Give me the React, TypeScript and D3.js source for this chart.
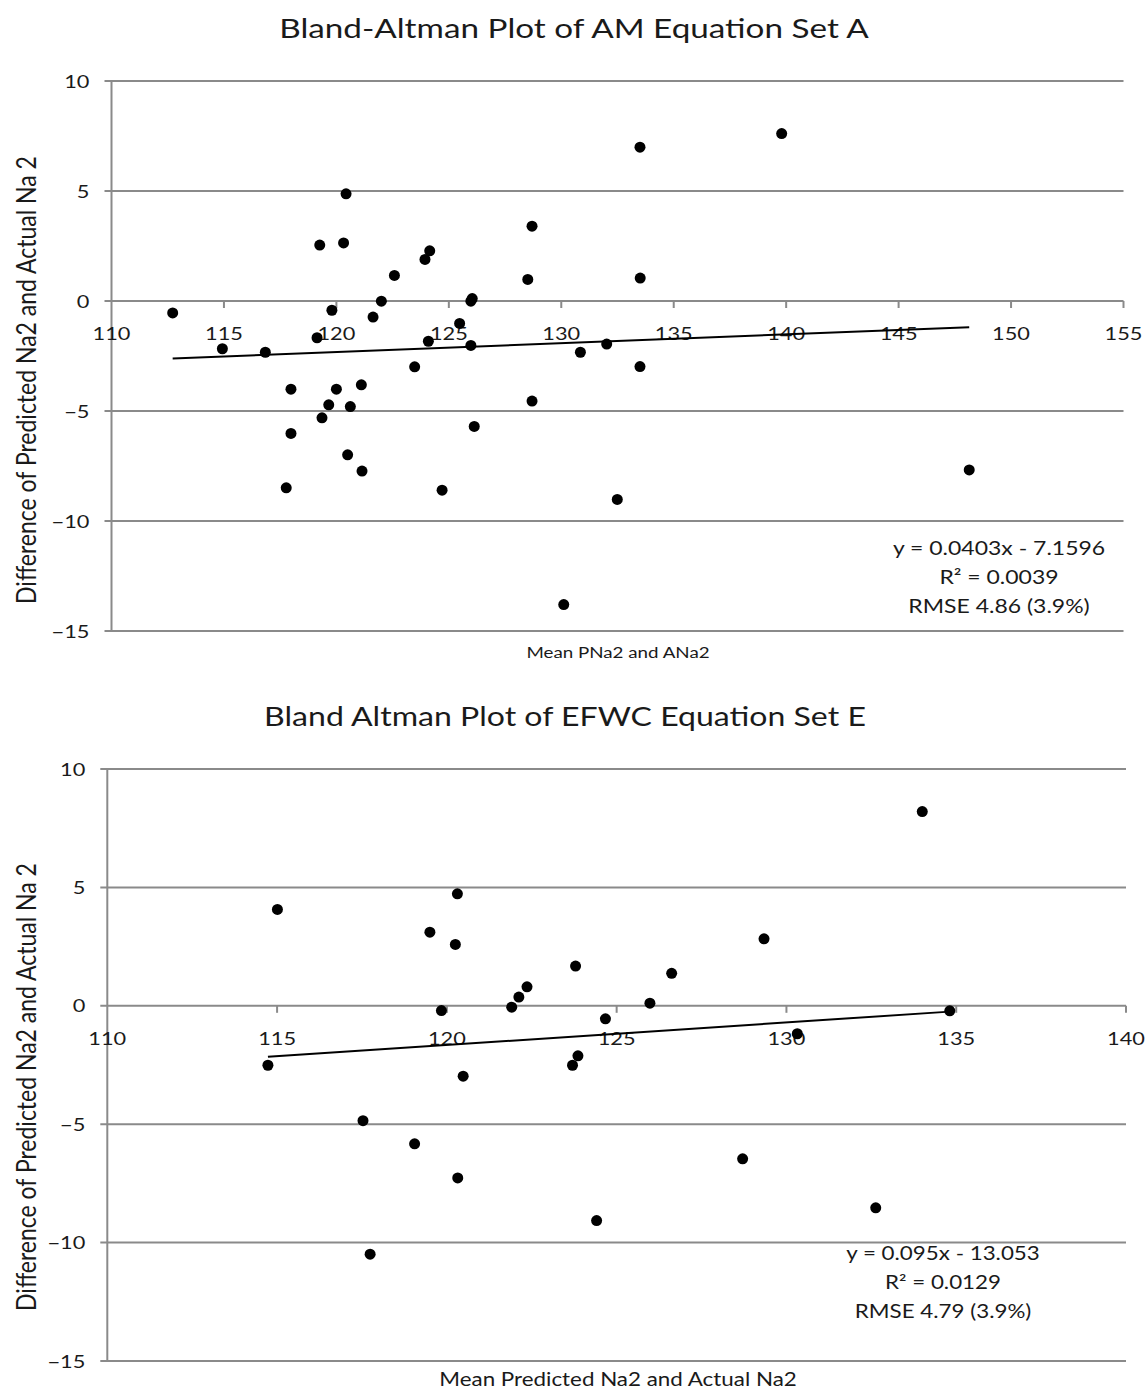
import React, { useEffect, useRef } from 'react';
import * as d3 from 'd3';

// Panel A: mean of PNa2 and ANa2 vs difference
const meanA = [
  112.72, 120.43, 119.26, 120.32, 124.15, 123.94, 122.58, 122.0, 126.04, 125.98,
  119.8, 121.63, 125.48, 119.14, 124.09, 125.98, 114.93, 116.84, 123.48, 117.98,
  120.0, 121.11, 119.66, 120.62, 119.36, 117.98, 126.13, 120.5, 121.14, 117.77,
  124.7, 133.5, 139.8, 128.7, 128.51, 133.51, 130.85, 132.02, 133.5, 128.7,
  132.49, 130.11, 148.14
];
const diffA = [
  -0.54, 4.87, 2.54, 2.64, 2.28, 1.89, 1.16, -0.01, 0.11, -0.01,
  -0.42, -0.73, -1.02, -1.67, -1.83, -2.02, -2.17, -2.33, -2.99, -4.01,
  -4.01, -3.81, -4.72, -4.8, -5.31, -6.02, -5.7, -6.99, -7.73, -8.49,
  -8.6, 6.99, 7.61, 3.4, 0.98, 1.04, -2.33, -1.96, -2.98, -4.55,
  -9.02, -13.8, -7.68
];

// Panel E: mean predicted and actual Na2 vs difference
const meanE = [
  115.01, 120.31, 119.5, 120.25, 119.84, 114.73, 120.48, 117.53, 119.05, 120.32,
  117.74, 129.34, 123.79, 126.62, 122.36, 122.12, 121.91, 125.98, 124.67, 130.32,
  123.86, 123.7, 128.71, 124.41, 132.63, 134.0, 134.81
];
const diffE = [
  4.07, 4.73, 3.11, 2.59, -0.2, -2.51, -2.97, -4.85, -5.83, -7.27,
  -10.49, 2.83, 1.68, 1.37, 0.8, 0.37, -0.06, 0.11, -0.55, -1.18,
  -2.11, -2.51, -6.46, -9.07, -8.53, 8.2, -0.21
];

const xTicksA = [110, 115, 120, 125, 130, 135, 140, 145, 150, 155];
const xTicksE = [110, 115, 120, 125, 130, 135, 140];
const yTicks = [10, 5, 0, -5, -10, -15];

const fitA = { slope: 0.0403, intercept: -7.1596 };
const fitE = { slope: 0.095, intercept: -13.053 };

const notesA = ['y = 0.0403x - 7.1596', 'R² = 0.0039', 'RMSE 4.86 (3.9%)'];
const notesE = ['y = 0.095x - 13.053', 'R² = 0.0129', 'RMSE 4.79 (3.9%)'];

const Y_TITLE = 'Difference of Predicted Na2 and Actual Na 2';

const FONT = 'Lato, "Open Sans", sans-serif';
const GRID = '#8a8a8a';
const INK = '#1a1a1a';
// the source picture is stretched horizontally, so are its letters
const STRETCH = 1.21;

type G = d3.Selection<SVGGElement, unknown, null, undefined>;

type Panel = {
  title: string;
  titleX: number;
  titleY: number;
  titleSize: number;
  xTitle: string;
  xTitleY: number;
  xTitleSize: number;
  means: number[];
  diffs: number[];
  xTicks: number[];
  xRange: [number, number];
  yRange: [number, number];
  fit: { slope: number; intercept: number };
  notes: string[];
  noteX: number;
  noteY: number;
  noteSize: number;
  yTitleY: number;
};

const panels: Panel[] = [
  {
    title: 'Bland-Altman Plot of AM Equation Set A',
    titleX: 574,
    titleY: 28,
    titleSize: 27.5,
    xTitle: 'Mean PNa2 and ANa2',
    xTitleY: 652,
    xTitleSize: 15.5,
    means: meanA,
    diffs: diffA,
    xTicks: xTicksA,
    xRange: [111.5, 1123.5],
    yRange: [631, 81],
    fit: fitA,
    notes: notesA,
    noteX: 999,
    noteY: 548,
    noteSize: 19,
    yTitleY: 380
  },
  {
    title: 'Bland Altman Plot of EFWC Equation Set E',
    titleX: 565,
    titleY: 716,
    titleSize: 26.5,
    xTitle: 'Mean Predicted Na2 and Actual Na2',
    xTitleY: 1380,
    xTitleSize: 18.5,
    means: meanE,
    diffs: diffE,
    xTicks: xTicksE,
    xRange: [107.3, 1126],
    yRange: [1361, 769],
    fit: fitE,
    notes: notesE,
    noteX: 943,
    noteY: 1253,
    noteSize: 18.5,
    yTitleY: 1087
  }
];

function label(g: G, x: number, y: number, txt: string, size: number, anchor = 'middle') {
  g.append('text')
    .attr('transform', `translate(${x}, ${y}) scale(${STRETCH}, 1)`)
    .attr('text-anchor', anchor)
    .style('font-family', FONT)
    .style('font-size', `${size}px`)
    .style('fill', INK)
    .text(txt);
}

function drawPanel(svg: d3.Selection<SVGSVGElement, unknown, null, undefined>, p: Panel) {
  const x = d3
    .scaleLinear()
    .domain([p.xTicks[0], p.xTicks[p.xTicks.length - 1]])
    .range(p.xRange);
  const y = d3.scaleLinear().domain([-15, 10]).range(p.yRange);

  const g = svg.append('g');

  // horizontal gridlines (the zero line doubles as x axis)
  g.selectAll()
    .data(yTicks)
    .enter()
    .append('line')
    .attr('x1', p.xRange[0] - 7)
    .attr('x2', p.xRange[1])
    .attr('y1', d => y(d))
    .attr('y2', d => y(d))
    .style('stroke', GRID)
    .style('stroke-width', 2);

  // vertical axis
  g.append('line')
    .attr('x1', p.xRange[0])
    .attr('x2', p.xRange[0])
    .attr('y1', p.yRange[1])
    .attr('y2', p.yRange[0])
    .style('stroke', GRID)
    .style('stroke-width', 2);

  // y tick labels
  yTicks.forEach(d => {
    label(g, p.xRange[0] - 22, y(d) + 6.5, d < 0 ? '\u2212' + Math.abs(d) : String(d), 18, 'end');
  });

  // x ticks sit on the zero line
  const zero = y(0);
  g.selectAll()
    .data(p.xTicks.slice(1))
    .enter()
    .append('line')
    .attr('x1', d => x(d))
    .attr('x2', d => x(d))
    .attr('y1', zero)
    .attr('y2', zero + 7)
    .style('stroke', GRID)
    .style('stroke-width', 2);

  p.xTicks.forEach(d => label(g, x(d), zero + 39, String(d), 18));

  // regression line across the data range
  const [xMin, xMax] = d3.extent(p.means) as [number, number];
  const line = d3
    .line<number>()
    .x(d => x(d))
    .y(d => y(p.fit.slope * d + p.fit.intercept));
  g.append('path')
    .attr('d', line([xMin, xMax]))
    .style('fill', 'none')
    .style('stroke', '#000')
    .style('stroke-width', 2);

  // points
  g.selectAll()
    .data(p.means)
    .enter()
    .append('circle')
    .attr('cx', d => x(d))
    .attr('cy', (_, i) => y(p.diffs[i]))
    .attr('r', 5.5)
    .style('fill', '#000');

  label(g, p.titleX, p.titleY + 10, p.title, p.titleSize);
  label(g, 618, p.xTitleY + 6, p.xTitle, p.xTitleSize);

  // y axis title, rotated
  g.append('text')
    .attr('transform', `translate(36, ${p.yTitleY}) scale(${STRETCH}, 1) rotate(-90)`)
    .attr('text-anchor', 'middle')
    .style('font-family', FONT)
    .style('font-size', '23px')
    .style('fill', INK)
    .text(Y_TITLE);

  // fit annotation
  p.notes.forEach((t, i) => label(g, p.noteX, p.noteY + 7 + i * 29, t, p.noteSize));
}

function App() {
  const ref = useRef<SVGSVGElement>(null);

  useEffect(() => {
    if (!ref.current) return;
    const svg = d3.select(ref.current);
    svg.selectAll('*').remove();
    panels.forEach(p => drawPanel(svg, p));
  }, []);

  return (
    <div style={{ position: 'absolute', left: 0, top: 0 }}>
      <svg ref={ref} width={1147} height={1391} style={{ background: '#fff', display: 'block' }} />
    </div>
  );
}

export default App;
